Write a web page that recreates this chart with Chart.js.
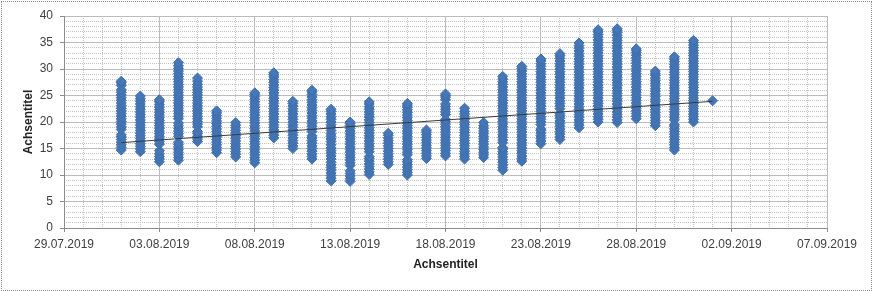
<!DOCTYPE html>
<html lang="de">
<head>
  <meta charset="UTF-8">
  <title>Achsentitel</title>
  <script src="https://cdn.jsdelivr.net/npm/chart.js@4/dist/chart.umd.min.js"></script>
  <style>
    html, body {
      margin: 0;
      padding: 0;
      background: #fff;
    }
    .wrap {
      position: relative;
      width: 874px;
      height: 291px;
    }
    .frame {
      position: absolute;
      left: 1px;
      top: 1px;
      width: 871px;
      height: 290px;
      box-sizing: border-box;
      border: 1px dotted #8a8a8a;
      pointer-events: none;
    }
  </style>
</head>
<body>
<div class="wrap">
  <canvas id="chart"></canvas>
  <div class="frame"></div>
</div>

<script>
  // x axis tick labels (every 5 days)
  const xTicks = ['29.07.2019', '03.08.2019', '08.08.2019', '13.08.2019', '18.08.2019',
                  '23.08.2019', '28.08.2019', '02.09.2019', '07.09.2019'];

  // one entry per day, readings[i] belongs to days[i]
  const days = ['01.08.2019', '02.08.2019', '03.08.2019', '04.08.2019', '05.08.2019', '06.08.2019',
                '07.08.2019', '08.08.2019', '09.08.2019', '10.08.2019', '11.08.2019', '12.08.2019',
                '13.08.2019', '14.08.2019', '15.08.2019', '16.08.2019', '17.08.2019', '18.08.2019',
                '19.08.2019', '20.08.2019', '21.08.2019', '22.08.2019', '23.08.2019', '24.08.2019',
                '25.08.2019', '26.08.2019', '27.08.2019', '28.08.2019', '29.08.2019', '30.08.2019',
                '31.08.2019', '01.09.2019'];

  const readings = [
    [14.7,15.2,15.7,16.2,16.7,17.2,17.6,18.6,19.1,19.6,20.1,20.6,21.1,21.6,22.1,22.6,23.1,23.6,24.1,24.6,25.1,25.6,26.1,26.9,27.4,27.7],
    [14.4,14.9,15.4,15.9,16.4,16.9,17.4,17.9,18.4,18.9,19.4,19.9,20.4,20.9,21.4,21.9,22.4,22.9,23.4,23.9,24.4,24.9],
    [12.5,13.0,13.5,14.0,14.6,15.8,16.3,16.8,17.3,17.8,18.3,18.8,19.3,19.8,20.3,20.8,21.3,21.8,22.3,22.8,23.3,23.8,24.2],
    [12.8,13.3,13.8,14.3,14.8,15.3,15.8,16.2,17.3,17.8,18.3,18.8,19.3,19.8,20.6,21.1,21.6,22.1,22.6,23.1,23.6,24.1,24.6,25.1,25.6,26.1,26.6,27.1,27.6,28.1,28.6,29.1,29.6,30.1,30.6,31.2],
    [16.3,16.8,17.3,17.8,18.2,19.1,19.6,20.1,20.6,21.1,21.6,22.1,22.6,23.1,23.6,24.1,24.6,25.1,25.6,26.1,26.6,27.1,27.7,28.3],
    [14.2,14.7,15.2,15.7,16.2,16.7,17.2,17.7,18.2,18.7,19.2,19.7,20.2,20.7,21.2,21.7,22.1],
    [13.4,13.9,14.4,14.9,15.4,15.9,16.4,16.9,17.4,17.9,18.4,18.9,19.4,19.9],
    [12.3,12.8,13.3,13.8,14.3,14.8,15.3,15.8,16.3,16.8,17.3,17.7,18.3,18.8,19.3,19.8,20.3,20.8,21.3,21.8,22.3,22.8,23.3,23.8,24.3,24.8,25.2,25.5],
    [17.0,17.5,18.0,18.5,19.0,19.5,20.0,20.5,21.0,21.5,22.0,22.5,23.0,23.5,24.0,24.5,25.0,25.5,26.0,26.5,27.0,27.5,28.0,28.5,28.9,29.3],
    [15.0,15.5,16.0,16.5,17.0,17.5,18.0,18.5,19.0,19.5,20.0,20.5,21.0,21.5,22.0,22.5,23.0,23.5,23.9],
    [13.0,13.5,14.0,14.5,15.0,15.5,16.0,16.5,17.0,17.4,18.2,18.7,19.2,19.7,20.2,20.7,21.2,21.7,22.2,22.7,23.2,23.7,24.2,24.7,25.2,25.7,26.0],
    [8.9,9.4,9.9,10.4,10.9,11.4,11.9,12.4,13.0,13.6,14.1,14.6,15.1,15.7,16.3,16.8,17.3,17.8,18.4,19.0,19.5,20.0,20.5,21.0,21.5,22.0,22.4],
    [8.8,9.3,9.8,10.3,10.8,11.8,12.3,12.8,13.3,13.8,14.3,14.8,15.3,15.8,16.3,16.8,17.3,17.8,18.3,18.8,19.3,19.7,20.0],
    [10.1,10.6,11.1,11.6,12.1,12.6,13.1,13.5,14.4,14.9,15.4,15.9,16.4,16.9,17.4,17.9,18.4,18.9,19.4,19.9,20.4,20.9,21.4,21.9,22.4,22.9,23.4,23.8],
    [12.0,12.5,13.0,13.5,14.0,14.5,15.0,15.5,16.0,16.5,17.0,17.5,17.9],
    [10.0,10.5,11.0,11.5,12.0,12.5,12.9,13.8,14.3,14.8,15.3,15.8,16.3,16.8,17.3,17.8,18.3,18.8,19.3,19.8,20.3,20.8,21.3,21.8,22.3,22.8,23.2,23.5],
    [13.1,13.6,14.1,14.6,15.1,15.6,16.1,16.6,17.1,17.6,18.1,18.5],
    [13.6,14.1,14.6,15.1,15.6,16.1,16.6,17.1,17.6,18.1,18.6,19.1,19.6,20.1,20.5,21.4,21.9,22.4,22.9,23.4,24.2,24.7,25.0,25.3],
    [13.0,13.5,14.0,14.5,15.0,15.5,16.0,16.5,17.0,17.5,18.0,18.5,19.0,19.5,20.0,20.5,21.0,21.5,22.0,22.6],
    [13.3,13.8,14.3,14.8,15.3,15.8,16.3,16.8,17.3,17.8,18.3,18.8,19.3,19.9],
    [10.9,11.4,11.9,12.4,12.9,13.4,13.9,14.4,14.9,15.2,16.1,16.6,17.1,17.6,18.1,18.6,19.1,19.6,20.1,20.6,21.1,21.6,22.1,22.6,23.1,23.6,24.1,24.6,25.1,25.6,26.1,26.6,27.1,27.6,28.1,28.6],
    [12.6,13.1,13.6,14.1,14.6,15.1,15.6,16.1,16.6,17.1,17.6,18.1,18.6,19.1,19.6,20.1,20.6,21.1,21.6,22.1,22.6,23.1,23.6,24.1,24.6,25.1,25.6,26.1,26.6,27.1,27.6,28.1,28.6,29.1,29.6,30.1,30.5],
    [15.9,16.4,16.9,17.4,17.9,18.4,18.7,19.5,20.0,20.5,21.0,21.5,22.0,22.5,23.0,23.5,24.0,24.5,25.0,25.5,26.0,26.5,27.0,27.5,28.0,28.5,29.0,29.5,30.0,30.5,31.0,31.5,31.9],
    [16.7,17.2,17.7,18.2,18.7,19.2,19.7,20.2,20.7,21.2,21.6,22.5,23.0,23.5,24.0,24.5,25.0,25.5,26.0,26.5,27.0,27.5,28.0,28.5,29.0,29.5,30.0,30.5,31.0,31.5,32.0,32.5,32.9],
    [18.9,19.4,19.9,20.4,20.9,21.4,21.9,22.4,22.9,23.4,23.9,24.4,24.9,25.4,25.9,26.4,26.9,27.4,27.9,28.4,28.9,29.4,29.9,30.4,30.9,31.4,31.9,32.4,32.9,33.4,33.9,34.4,34.9],
    [20.0,20.5,21.0,21.5,22.0,22.5,23.0,23.5,24.0,24.5,25.0,25.5,26.0,26.5,27.0,27.5,28.0,28.5,29.0,29.5,30.0,30.5,31.0,31.5,32.0,32.5,33.0,33.5,34.0,34.5,35.0,35.5,36.0,36.5,37.0,37.4],
    [19.9,20.4,20.9,21.4,21.9,22.4,22.9,23.4,23.9,24.4,24.9,25.4,25.9,26.4,26.9,27.4,27.9,28.4,28.9,29.4,29.9,30.4,30.9,31.4,31.9,32.4,32.9,33.4,33.9,34.4,34.9,35.4,35.9,36.4,36.9,37.3,37.6],
    [20.6,21.1,21.6,22.1,22.6,23.1,23.6,24.1,24.6,25.1,25.6,26.1,26.6,27.1,27.6,28.1,28.6,29.1,29.6,30.1,30.6,31.1,31.6,32.1,32.6,33.1,33.5,33.8],
    [19.3,19.8,20.3,20.8,21.3,21.8,22.3,22.8,23.3,23.8,24.3,24.8,25.3,25.8,26.3,26.8,27.3,27.8,28.3,28.8,29.2,29.6],
    [14.7,15.2,15.7,16.2,16.7,17.2,17.7,18.2,18.7,19.2,19.5,20.4,20.9,21.4,21.9,22.4,22.9,23.4,23.9,24.4,24.9,25.4,25.9,26.4,26.9,27.4,27.9,28.4,28.9,29.4,29.9,30.4,30.9,31.4,31.9,32.3],
    [20.0,20.5,21.0,21.5,22.0,22.5,23.0,23.5,24.0,24.5,25.0,25.5,26.0,26.5,27.0,27.5,28.0,28.5,29.0,29.5,30.0,30.5,31.0,31.5,32.0,32.5,33.0,33.5,34.0,34.5,35.0,35.4],
    [24.0]
  ];

  // linear trendline, end points
  const trendDays = ['01.08.2019', '01.09.2019'];
  const trendValues = [16.1, 23.9];

  const yTicks = [0, 5, 10, 15, 20, 25, 30, 35, 40];

  // day number since epoch, so one unit on the x scale is one day
  const toDay = s => {
    const [d, m, y] = s.split('.').map(Number);
    return Date.UTC(y, m - 1, d) / 86400000;
  };

  const xMin = toDay(xTicks[0]);
  const xMax = toDay(xTicks[xTicks.length - 1]);

  const points = [];
  days.forEach((d, i) => readings[i].forEach(v => points.push({ x: toDay(d), y: v })));

  const trend = trendDays.map((d, i) => ({ x: toDay(d), y: trendValues[i] }));

  const labelFont = { family: "'Liberation Sans', Arial, sans-serif", size: 12 };
  const titleFont = { family: "'Liberation Sans', Arial, sans-serif", size: 12, weight: 'bold' };
  const majorGrid = '#bcbcbc';
  const minorGrid = '#c4c4c4';
  const axisColor = '#8c8c8c';
  const textColor = '#404040';

  new Chart(document.getElementById('chart'), {
    type: 'scatter',
    data: {
      datasets: [{
        label: 'Linear',
        data: trend,
        showLine: true,
        borderColor: '#3a3a3a',
        borderWidth: 1,
        pointRadius: 0,
        fill: false
      }, {
        label: 'Werte',
        data: points,
        pointStyle: 'rectRot',
        pointRadius: 5,
        pointHoverRadius: 5,
        backgroundColor: '#4678b8',
        borderColor: '#3d6cab',
        borderWidth: 1
      }]
    },
    options: {
      responsive: true,
      maintainAspectRatio: false,
      animation: false,
      layout: { padding: { left: 17, right: 47, top: 16, bottom: 15 } },
      plugins: {
        legend: { display: false },
        tooltip: { enabled: false }
      },
      scales: {
        x: {
          type: 'linear',
          position: 'bottom',
          min: xMin,
          max: xMax,
          afterFit: s => { s.height = 48; },
          ticks: {
            stepSize: 5,
            autoSkip: false,
            maxRotation: 0,
            padding: 5,
            color: textColor,
            font: labelFont,
            callback: (v, i) => xTicks[i]
          },
          grid: { color: majorGrid, tickLength: 4, tickColor: axisColor },
          border: { color: axisColor },
          title: { display: true, text: 'Achsentitel', color: '#222', font: titleFont }
        },
        x2: {
          type: 'linear',
          position: 'bottom',
          min: xMin,
          max: xMax,
          ticks: { display: false, stepSize: 1, autoSkip: false },
          grid: {
            drawTicks: false,
            color: c => ((c.tick.value - xMin) % 5 === 0 ? 'rgba(0,0,0,0)' : minorGrid)
          },
          border: { display: false, dash: [1, 1] }
        },
        y: {
          min: 0,
          max: 40,
          afterFit: s => { s.width = 47; },
          ticks: {
            stepSize: 5,
            padding: 7,
            color: textColor,
            font: labelFont,
            callback: (v, i) => yTicks[i]
          },
          grid: { color: majorGrid, tickLength: 4, tickColor: axisColor },
          border: { color: axisColor },
          title: { display: true, text: 'Achsentitel', color: '#222', font: titleFont }
        },
        y2: {
          position: 'left',
          min: 0,
          max: 40,
          ticks: { display: false, stepSize: 1 },
          grid: {
            drawTicks: false,
            color: c => (c.tick.value % 5 === 0 ? 'rgba(0,0,0,0)' : minorGrid)
          },
          border: { display: false, dash: [1, 1] }
        }
      }
    }
  });
</script>
</body>
</html>
